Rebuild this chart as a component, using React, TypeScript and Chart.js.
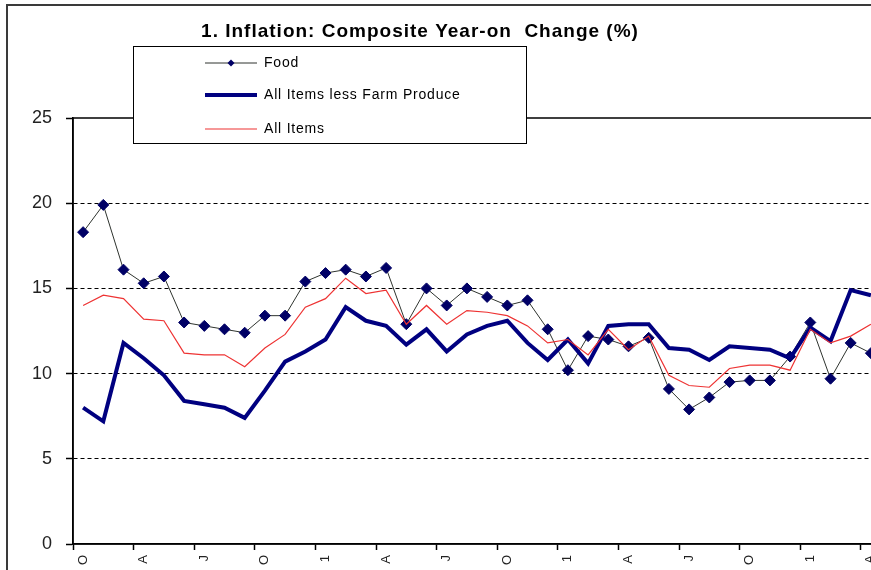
import React, { useEffect, useRef } from "react";
import { Chart, registerables } from "chart.js";

Chart.register(...registerables);

const TITLE = "1. Inflation: Composite Year-on  Change (%)";

// One label every third month (as printed on the axis, rotated)
const tickLabels = ["O", "A", "J", "O", "1", "A", "J", "O", "1", "A", "J", "O", "1", "A"];

const food = [
  18.3, 19.9, 16.1, 15.3, 15.7, 13.0, 12.8, 12.6, 12.4, 13.4,
  13.4, 15.4, 15.9, 16.1, 15.7, 16.2, 12.9, 15.0, 14.0, 15.0,
  14.5, 14.0, 14.3, 12.6, 10.2, 12.2, 12.0, 11.6, 12.1, 9.1,
  7.9, 8.6, 9.5, 9.6, 9.6, 11.0, 13.0, 9.7, 11.8, 11.2,
];

const allLessFarm = [
  8.0, 7.2, 11.8, 10.9, 9.9, 8.4, 8.2, 8.0, 7.4, 9.0,
  10.7, 11.3, 12.0, 13.9, 13.1, 12.8, 11.7, 12.6, 11.3, 12.3,
  12.8, 13.1, 11.8, 10.8, 12.0, 10.6, 12.8, 12.9, 12.9, 11.5,
  11.4, 10.8, 11.6, 11.5, 11.4, 10.9, 12.7, 11.9, 14.9, 14.6,
];

const allItems = [
  14.0, 14.6, 14.4, 13.2, 13.1, 11.2, 11.1, 11.1, 10.4, 11.5,
  12.3, 13.9, 14.4, 15.6, 14.7, 14.9, 12.9, 14.0, 12.9, 13.7,
  13.6, 13.4, 12.8, 11.8, 12.0, 11.1, 12.6, 11.4, 12.2, 9.9,
  9.3, 9.2, 10.3, 10.5, 10.5, 10.2, 12.6, 11.8, 12.2, 12.9,
];

const yTicks = [0, 5, 10, 15, 20, 25];

const categories: string[] = food.map((_, i) => (i % 3 === 0 ? tickLabels[i / 3] ?? "" : ""));

const FONT = '"Liberation Sans", Arial, sans-serif';

const decorPlugin = {
  id: "decor",
  beforeDatasetsDraw(chart: any) {
    const { ctx, chartArea: a } = chart;
    ctx.save();
    ctx.strokeStyle = "#000";
    ctx.lineWidth = 1.5;
    ctx.strokeRect(a.left, a.top, a.right - a.left, a.bottom - a.top);
    ctx.restore();
  },
  afterDraw(chart: any) {
    const ctx = chart.ctx as any;
    ctx.save();
    // outer chart frame
    ctx.strokeStyle = "#3a3a3a";
    ctx.lineWidth = 2;
    ctx.strokeRect(7, 5, 2000, 2000);

    // title
    ctx.fillStyle = "#000";
    ctx.font = `bold 19px ${FONT}`;
    ctx.letterSpacing = "1px";
    ctx.textAlign = "center";
    ctx.textBaseline = "middle";
    ctx.fillText(TITLE, 420, 32);

    // legend box
    const bx = 133.5, by = 46.5, bw = 393, bh = 97;
    ctx.letterSpacing = "0px";
    ctx.fillStyle = "#fff";
    ctx.fillRect(bx, by, bw, bh);
    ctx.strokeStyle = "#000";
    ctx.lineWidth = 1;
    ctx.strokeRect(bx, by, bw, bh);

    const rows = [63, 95, 129];
    const ds = chart.data.datasets;
    const x0 = 205, x1 = 257;
    ds.forEach((d: any, i: number) => {
      const y = rows[i];
      ctx.letterSpacing = "0px";
      ctx.strokeStyle = d.borderColor;
      ctx.lineWidth = d.borderWidth;
      ctx.beginPath();
      ctx.moveTo(x0, y);
      ctx.lineTo(x1, y);
      ctx.stroke();
      if (d.pointRadius > 0) {
        const cx = (x0 + x1) / 2, r = 3.5;
        ctx.fillStyle = d.pointBackgroundColor;
        ctx.beginPath();
        ctx.moveTo(cx, y - r);
        ctx.lineTo(cx + r, y);
        ctx.lineTo(cx, y + r);
        ctx.lineTo(cx - r, y);
        ctx.closePath();
        ctx.fill();
      }
      ctx.fillStyle = "#000";
      ctx.font = `14px ${FONT}`;
      ctx.letterSpacing = "0.8px";
      ctx.textAlign = "left";
      ctx.textBaseline = "middle";
      ctx.fillText(d.label, 264, y);
    });
    ctx.restore();
  },
};

export default function App() {
  const ref = useRef<HTMLCanvasElement | null>(null);

  useEffect(() => {
    if (!ref.current) return;
    const chart = new Chart(ref.current, {
      type: "line",
      data: {
        labels: categories,
        datasets: [
          {
            label: "Food",
            data: food,
            borderColor: "#2e332e",
            borderWidth: 1,
            pointStyle: "rectRot",
            pointRadius: 5.5,
            pointBackgroundColor: "#000066",
            pointBorderColor: "#000066",
            pointBorderWidth: 1,
            tension: 0,
            order: 3,
          },
          {
            label: "All Items less Farm Produce",
            data: allLessFarm,
            borderColor: "#000080",
            borderWidth: 4,
            pointRadius: 0,
            tension: 0,
            order: 2,
          },
          {
            label: "All Items",
            data: allItems,
            borderColor: "#ee3333",
            borderWidth: 1.2,
            pointRadius: 0,
            tension: 0,
            order: 1,
          },
        ],
      },
      options: {
        animation: false,
        responsive: false,
        devicePixelRatio: 1,
        layout: { padding: { left: 0, top: 118, right: 19, bottom: 0 } },
        plugins: {
          legend: { display: false },
          title: { display: false },
          tooltip: { enabled: false },
        },
        scales: {
          x: {
            type: "category",
            offset: true,
            afterFit(scale: any) {
              scale.height = 56;
            },
            grid: {
              offset: true,
              drawOnChartArea: false,
              drawTicks: true,
              tickLength: 6,
              tickWidth: 1.5,
              tickColor: (c: any) => (typeof c.index === "number" && c.index % 3 === 0 ? "#000" : "rgba(0,0,0,0)"),
            },
            border: { display: true, color: "#000", width: 1.5 },
            ticks: {
              autoSkip: false,
              maxRotation: 90,
              minRotation: 90,
              padding: 5,
              color: "#222",
              font: { family: FONT, size: 13 },
            },
          },
          y: {
            min: 0,
            max: 25,
            afterFit(scale: any) {
              scale.width = 73;
            },
            afterBuildTicks(scale: any) {
              scale.ticks = yTicks.map((v) => ({ value: v }));
            },
            grid: {
              color: (c: any) =>
                c.tick && (c.tick.value === 0 || c.tick.value === 25) ? "rgba(0,0,0,0)" : "#000",
              lineWidth: 1,
              drawTicks: true,
              tickLength: 7,
              tickColor: "#000",
              tickWidth: 1.5,
              tickBorderDash: [],
            },
            border: { display: true, color: "#000", width: 1.5, dash: [4, 3] },
            ticks: {
              padding: 14,
              color: "#222",
              font: { family: FONT, size: 18 },
            },
          },
        },
      },
      plugins: [decorPlugin],
    });
    return () => chart.destroy();
  }, []);

  return (
    <div
      style={{
        position: "fixed",
        left: 0,
        top: 0,
        width: 871,
        height: 570,
        overflow: "hidden",
        background: "#fff",
      }}
    >
      <canvas ref={ref} width={900} height={600} style={{ display: "block", width: 900, height: 600 }} />
    </div>
  );
}
